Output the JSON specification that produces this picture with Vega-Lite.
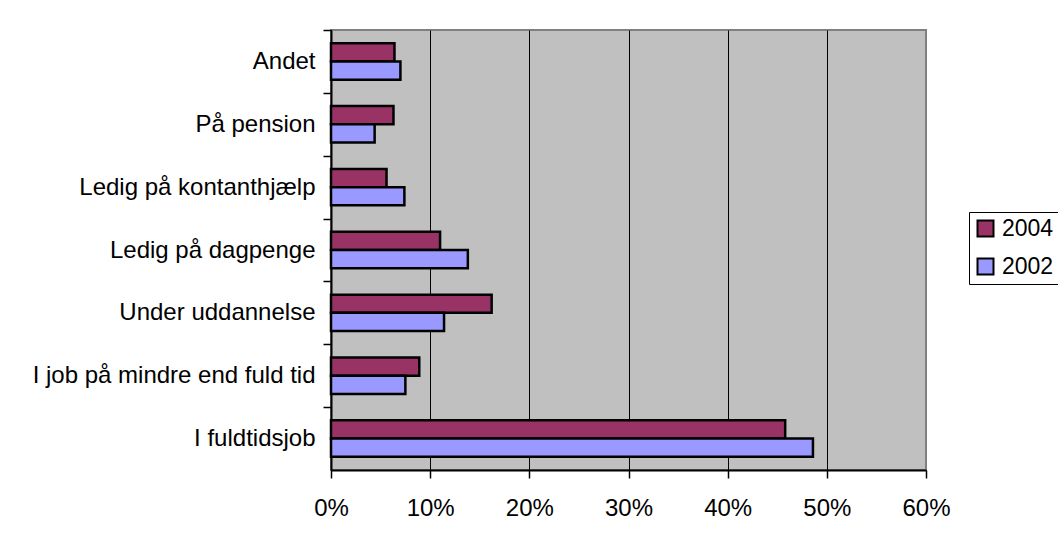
{
  "$schema": "https://vega.github.io/schema/vega-lite/v6.json",
  "width": 595,
  "height": 440,
  "autosize": {"type": "none"},
  "padding": {"left": 331, "top": 30, "right": 132, "bottom": 78},
  "background": "white",
  "config": {
    "font": "Liberation Sans",
    "view": {"fill": "#C0C0C0", "stroke": "#808080", "strokeWidth": 2}
  },
  "data": {
    "values": [
      {"category": "Andet", "year": "2004", "share": 0.064},
      {"category": "Andet", "year": "2002", "share": 0.070},
      {"category": "På pension", "year": "2004", "share": 0.063},
      {"category": "På pension", "year": "2002", "share": 0.044},
      {"category": "Ledig på kontanthjælp", "year": "2004", "share": 0.056},
      {"category": "Ledig på kontanthjælp", "year": "2002", "share": 0.074},
      {"category": "Ledig på dagpenge", "year": "2004", "share": 0.110},
      {"category": "Ledig på dagpenge", "year": "2002", "share": 0.138},
      {"category": "Under uddannelse", "year": "2004", "share": 0.162},
      {"category": "Under uddannelse", "year": "2002", "share": 0.114},
      {"category": "I job på mindre end fuld tid", "year": "2004", "share": 0.089},
      {"category": "I job på mindre end fuld tid", "year": "2002", "share": 0.075},
      {"category": "I fuldtidsjob", "year": "2004", "share": 0.458},
      {"category": "I fuldtidsjob", "year": "2002", "share": 0.486}
    ]
  },
  "mark": {"type": "bar", "stroke": "black", "strokeWidth": 2.5},
  "encoding": {
    "y": {
      "field": "category",
      "type": "nominal",
      "sort": ["Andet", "På pension", "Ledig på kontanthjælp", "Ledig på dagpenge", "Under uddannelse", "I job på mindre end fuld tid", "I fuldtidsjob"],
      "scale": {"paddingInner": 0.42, "paddingOuter": 0.21},
      "axis": {
        "title": null,
        "labelFontSize": 24,
        "labelColor": "black",
        "labelLimit": 400,
        "tickOffset": -31.43,
        "labelOffset": 31.43,
        "tickSize": 8,
        "tickColor": "black",
        "tickWidth": 1.5,
        "domainColor": "black",
        "domainWidth": 2,
        "labelPadding": 8
      }
    },
    "yOffset": {"field": "year", "type": "nominal", "sort": ["2004", "2002"]},
    "x": {
      "field": "share",
      "type": "quantitative",
      "scale": {"domain": [0, 0.6], "nice": false},
      "axis": {
        "title": null,
        "format": ".0%",
        "values": [0, 0.1, 0.2, 0.3, 0.4, 0.5, 0.6],
        "grid": true,
        "gridColor": "black",
        "gridWidth": 1,
        "gridOpacity": {"condition": {"test": "datum.value >= 0.6", "value": 0}, "value": 1},
        "tickSize": 8,
        "tickColor": "black",
        "tickWidth": 1.5,
        "domainColor": "black",
        "domainWidth": 2,
        "labelFontSize": 24,
        "labelColor": "black",
        "labelPadding": 18,
        "labelFlush": false
      }
    },
    "color": {
      "field": "year",
      "type": "nominal",
      "scale": {"domain": ["2004", "2002"], "range": ["#993366", "#9999FF"]},
      "legend": {
        "title": null,
        "orient": "none",
        "legendX": 638,
        "legendY": 182,
        "strokeColor": "black",
        "fillColor": "white",
        "padding": 5,
        "symbolType": "square",
        "symbolSize": 256,
        "symbolStrokeColor": "black",
        "symbolStrokeWidth": 2,
        "symbolOpacity": 1,
        "labelFontSize": 23,
        "labelColor": "black",
        "labelOffset": 5,
        "rowPadding": 13
      }
    }
  }
}
